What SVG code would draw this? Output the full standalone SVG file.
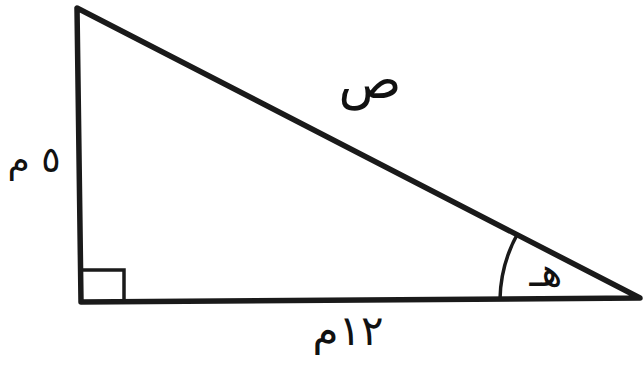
<svg xmlns="http://www.w3.org/2000/svg" width="644" height="367" viewBox="0 0 644 367">
<style>
.side{stroke:#1a1a1a;stroke-width:5.5;fill:none;stroke-linecap:round;stroke-linejoin:round}
.thin{stroke:#1a1a1a;stroke-width:3.5;fill:none}
.lbl{font-family:"DejaVu Sans",sans-serif;fill:#111;text-anchor:middle}
</style>
<rect width="644" height="367" fill="#fff"/>
<g id="triangle">
<polygon class="side" points="77,8 81,302 640,298"/>
</g>
<g id="right-angle">
<polyline class="thin" points="83,270 124,270 124,301"/>
</g>
<g id="angle-arc">
<path class="thin" d="M500,299 A141,141 0 0 1 518,233"/>
</g>
<g id="labels">
<text class="lbl" x="370" y="98" font-size="52">ص</text>
<text class="lbl" x="34" y="172" font-size="36">٥ م</text>
<text class="lbl" x="348" y="345" font-size="42">١٢م</text>
<text class="lbl" x="546" y="286" font-size="40">هـ</text>
</g>
</svg>
